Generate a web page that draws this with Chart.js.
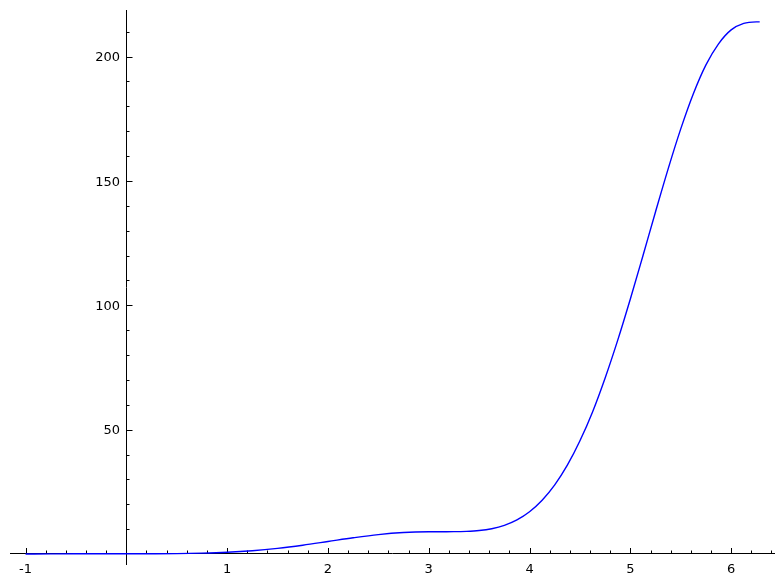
<!DOCTYPE html>
<html>
<head>
<meta charset="utf-8">
<script src="https://cdn.jsdelivr.net/npm/chart.js@4/dist/chart.umd.min.js"></script>
<style>
    body { margin: 0; background: #ffffff; }
</style>
</head>
<body>
<canvas id="curve" width="784" height="584"></canvas>
<script>
// DATA
const xValues = [-1, -0.75, -0.5, -0.25, 0, 0.25, 0.5, 0.75, 1, 1.25, 1.5, 1.75, 2, 2.25, 2.5, 2.75,
    3, 3.125, 3.25, 3.375, 3.5, 3.625, 3.75, 3.875, 4, 4.125, 4.25, 4.375, 4.5, 4.625, 4.75, 4.875,
    5, 5.125, 5.25, 5.375, 5.5, 5.625, 5.75, 5.875, 6, 6.125, 6.25, 6.2832]
const yValues = [0, 0.06, 0.11, 0.13, 0.13, 0.14, 0.19, 0.36, 0.71, 1.34, 2.29, 3.55, 5.03, 6.53, 7.82, 8.65,
    8.97, 8.99, 9.00, 9.11, 9.44, 10.19, 11.54, 13.74, 17.02, 21.63, 27.81, 35.71, 45.53, 57.14, 70.79, 86.00,
    102.54, 119.94, 137.61, 154.85, 170.91, 185.06, 196.66, 205.11, 210.70, 213.31, 213.92, 213.93]

const xTickValues = [-1, 1, 2, 3, 4, 5, 6]
const xTickLabels = ['-1', '1', '2', '3', '4', '5', '6']
const yTickValues = [50, 100, 150, 200]
const yTickLabels = ['50', '100', '150', '200']

const xMinorStep = 0.2
const yMinorStep = 10

// AXES THROUGH THE ORIGIN
const originAxes = {
    id: 'originAxes',
    beforeDatasetsDraw(chart) {
        const { ctx, chartArea, scales } = chart
        const x = scales.x
        const y = scales.y
        const x0 = Math.round(x.getPixelForValue(0)) + 0.5
        const y0 = Math.round(y.getPixelForValue(0)) - 0.5

        ctx.save()
        ctx.strokeStyle = '#000000'
        ctx.lineWidth = 1

        ctx.beginPath()
        ctx.moveTo(chartArea.left, y0)
        ctx.lineTo(chartArea.right, y0)
        ctx.moveTo(x0, chartArea.top)
        ctx.lineTo(x0, chartArea.bottom)
        ctx.stroke()

        // minor ticks
        ctx.beginPath()
        for (let i = Math.ceil(x.min / xMinorStep); i * xMinorStep <= x.max; i++) {
            const px = Math.round(x.getPixelForValue(i * xMinorStep)) + 0.5
            ctx.moveTo(px, y0)
            ctx.lineTo(px, y0 - 3)
        }
        for (let i = 1; i * yMinorStep <= y.max; i++) {
            const py = Math.round(y.getPixelForValue(i * yMinorStep)) + 0.5
            ctx.moveTo(x0, py)
            ctx.lineTo(x0 + 3, py)
        }
        ctx.stroke()

        // major ticks
        ctx.beginPath()
        xTickValues.forEach((value) => {
            const px = Math.round(x.getPixelForValue(value)) + 0.5
            ctx.moveTo(px, y0)
            ctx.lineTo(px, y0 - 5.5)
        })
        yTickValues.forEach((value) => {
            const py = Math.round(y.getPixelForValue(value)) + 0.5
            ctx.moveTo(x0, py)
            ctx.lineTo(x0 + 6, py)
        })
        ctx.stroke()

        // labels
        ctx.fillStyle = '#000000'
        ctx.font = '13px "DejaVu Sans"'
        ctx.textBaseline = 'alphabetic'
        ctx.textAlign = 'center'
        xTickValues.forEach((value, i) => {
            ctx.fillText(xTickLabels[i], x.getPixelForValue(value), y0 + 19)
        })
        ctx.textAlign = 'right'
        yTickValues.forEach((value, i) => {
            ctx.fillText(yTickLabels[i], x0 - 6.5, y.getPixelForValue(value) + 4.7)
        })
        ctx.restore()
    }
}

const curveCtx = document.getElementById('curve')

new Chart(curveCtx, {
    type: 'line',
    data: {
        datasets: [{
            data: xValues.map((value, i) => ({ x: value, y: yValues[i] })),
            borderColor: '#0000ff',
            borderWidth: 1.4,
            pointRadius: 0,
            cubicInterpolationMode: 'monotone',
            fill: false,
        }]
    },
    options: {
        responsive: false,
        animation: false,
        devicePixelRatio: 1,
        plugins: {
            legend: { display: false },
            tooltip: { enabled: false },
        },
        layout: {
            padding: { left: 10, right: 9, top: 10, bottom: 19 }
        },
        scales: {
            x: {
                type: 'linear',
                min: -1.154,
                max: 6.435,
                display: false,
            },
            y: {
                type: 'linear',
                min: -4.4,
                max: 218.7,
                display: false,
            }
        }
    },
    plugins: [originAxes],
})
</script>
</body>
</html>
